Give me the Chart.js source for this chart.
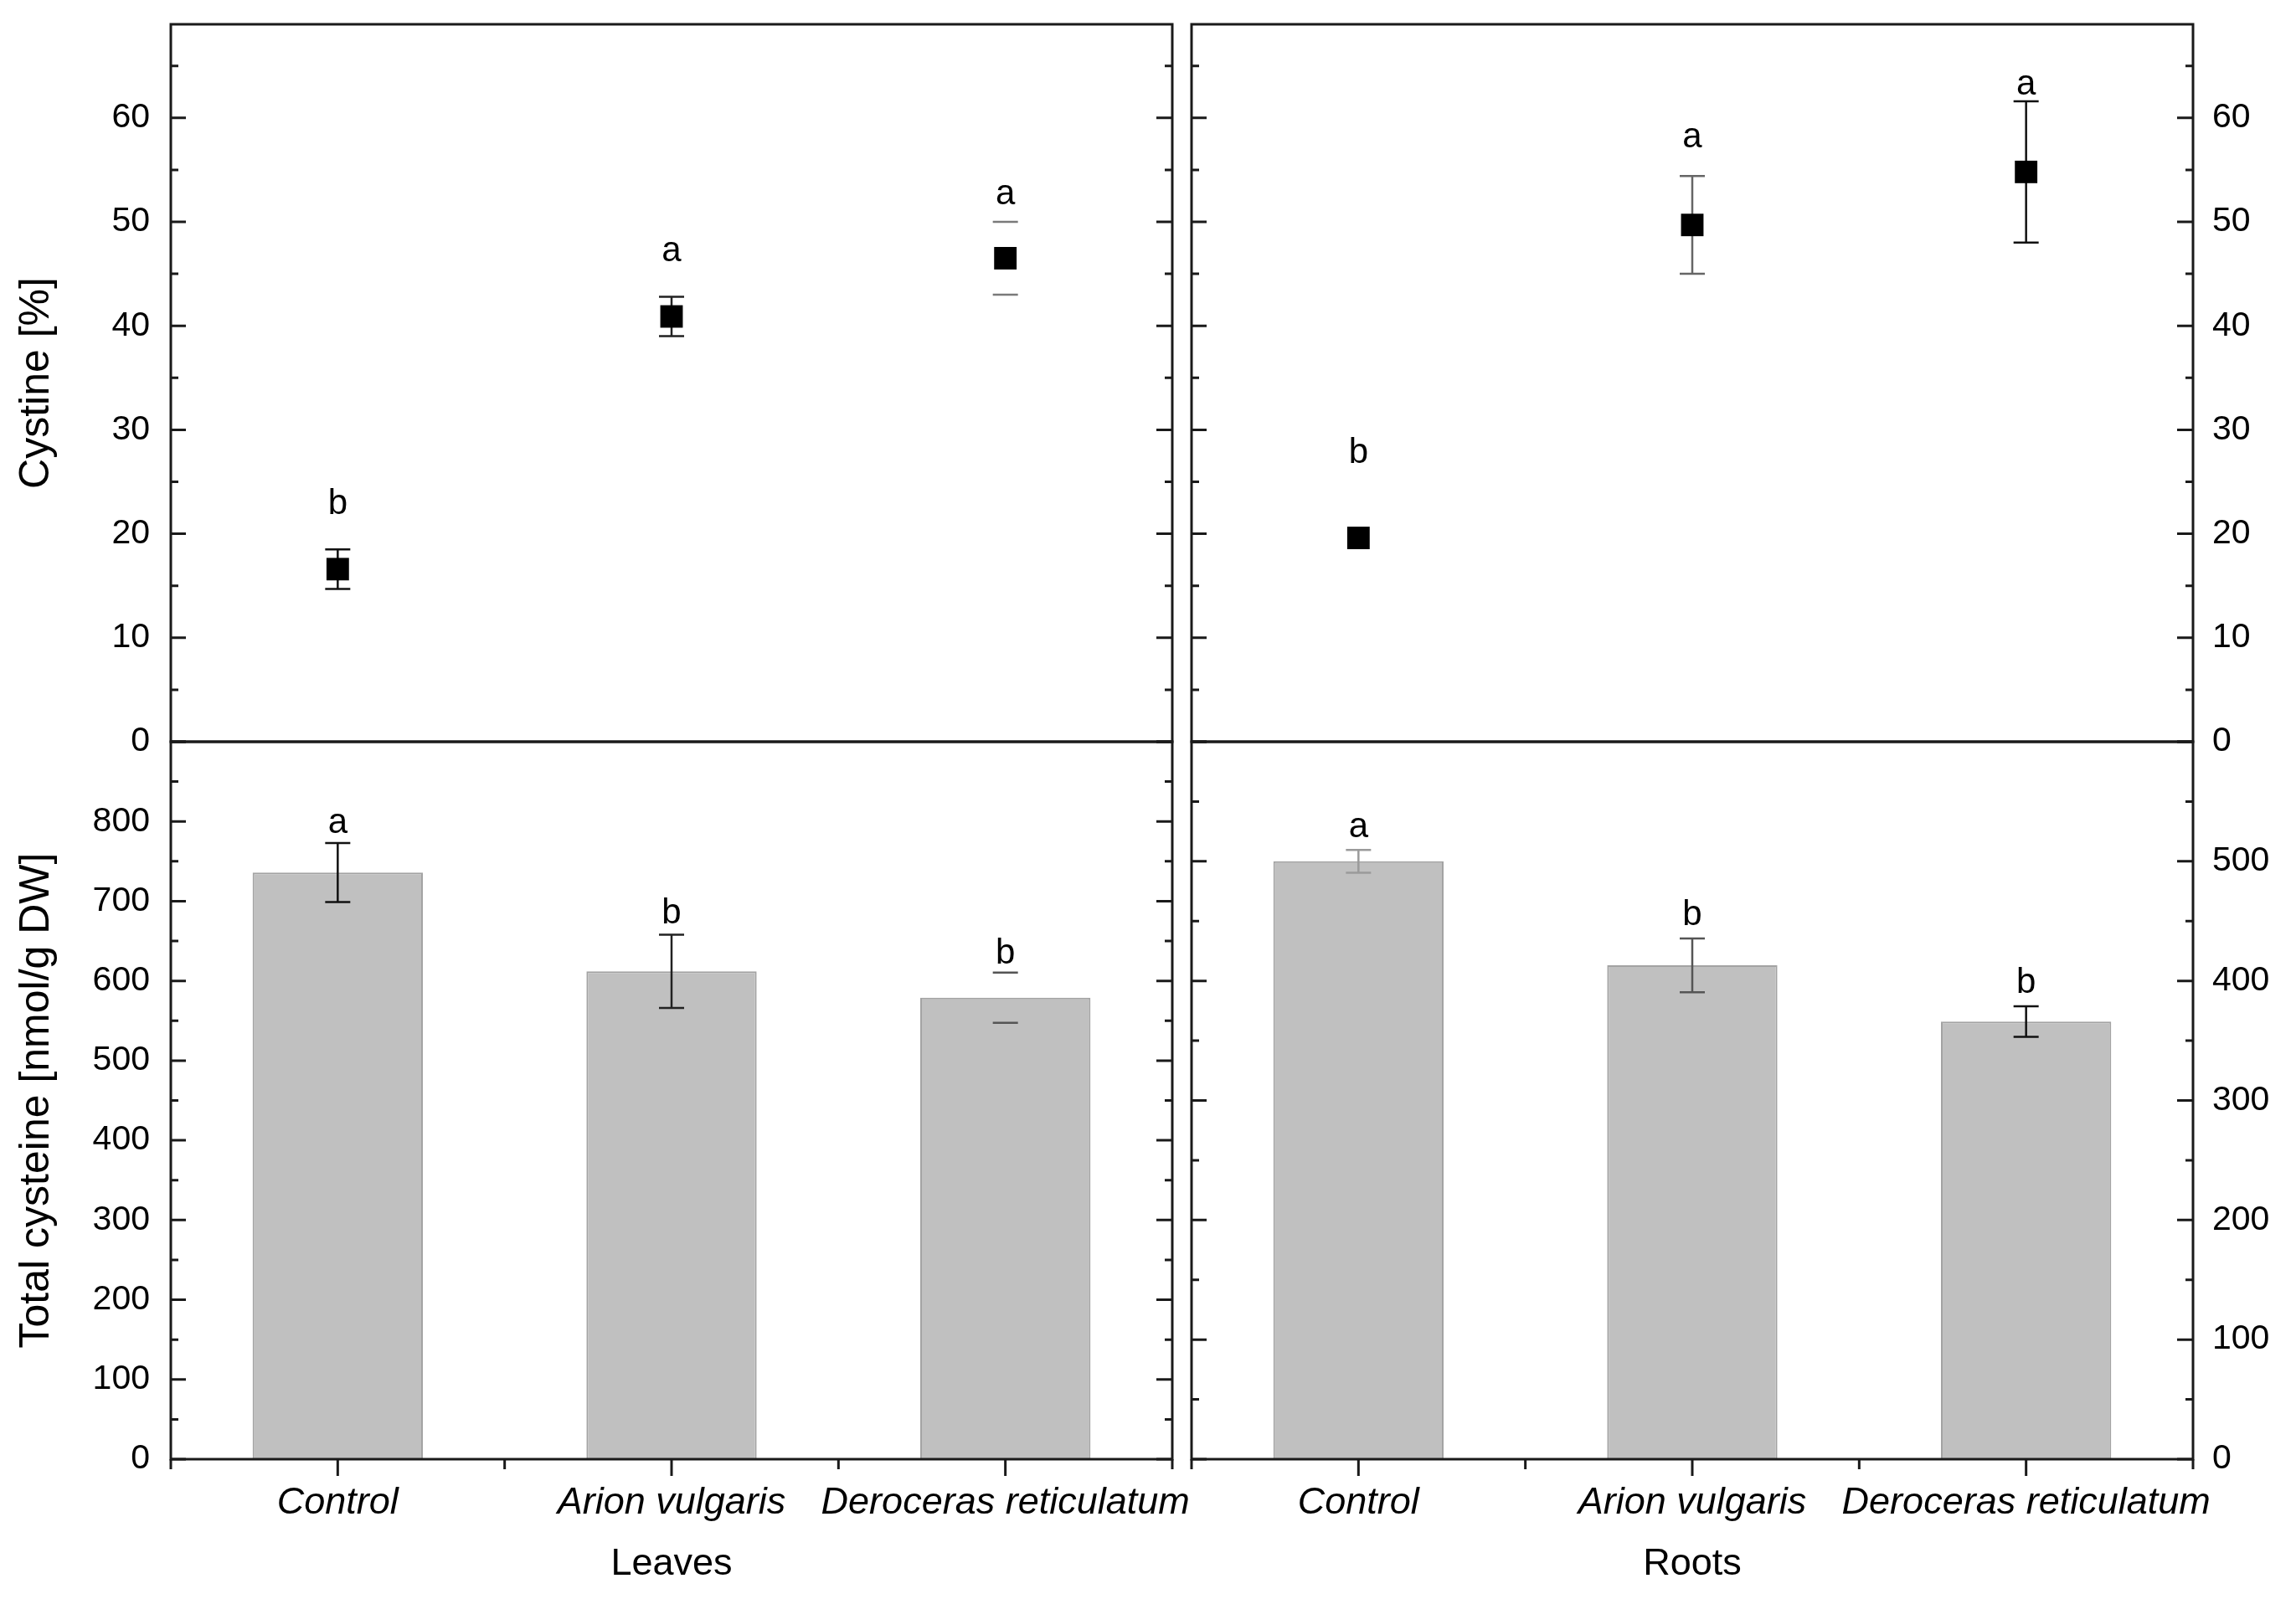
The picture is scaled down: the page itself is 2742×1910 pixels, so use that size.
<!DOCTYPE html>
<html>
<head>
<meta charset="utf-8">
<title>Cystine and total cysteine in leaves and roots</title>
<script src="https://cdn.jsdelivr.net/npm/chart.js@4.4.1/dist/chart.umd.min.js"></script>
<style>
    html, body { margin: 0; padding: 0; background: #fff; }
    body { width: 2742px; height: 1910px; position: relative; overflow: hidden; }
    canvas { position: absolute; }
</style>
</head>
<body>
<canvas id="leafTop" width="1440" height="920" style="left:0;top:0"></canvas>
<canvas id="rootTop" width="1342" height="920" style="left:1400px;top:0"></canvas>
<canvas id="leafBottom" width="1440" height="1050" style="left:0;top:860px"></canvas>
<canvas id="rootBottom" width="1342" height="1050" style="left:1400px;top:860px"></canvas>
<script>
// Treatments (x axis)
const groups = ['Control', 'Arion vulgaris', 'Deroceras reticulatum'];

// Cystine [%] - leaves
const leafCystine = [16.6, 40.9, 46.5];
const leafCystineErr = [1.9, 1.9, 3.5];
const leafCystineLetters = ['b', 'a', 'a'];
const leafCystineLetterAt = [21.9, 46.2, 51.7];

// Cystine [%] - roots
const rootCystine = [19.6, 49.7, 54.8];
const rootCystineErr = [0, 4.7, 6.8];
const rootCystineLetters = ['b', 'a', 'a'];
const rootCystineLetterAt = [26.8, 57.2, 62.2];

// Total cysteine [nmol/g DW] - leaves
const leafCysteine = [736, 612, 579];
const leafCysteineErr = [37, 46, 31.5];
const leafCysteineLetters = ['a', 'b', 'b'];
const leafCysteineLetterAt = [786, 672, 622];

// Total cysteine [nmol/g DW] - roots
const rootCysteine = [500, 413, 366];
const rootCysteineErr = [9.5, 22.5, 12.8];
const rootCysteineLetters = ['a', 'b', 'b'];
const rootCysteineLetterAt = [520, 447, 390];

// Axis ranges
const cystineMax = 69;
const cystineStep = 10;
const leafCysteineMax = 900;
const rootCysteineMax = 600;
const cysteineStep = 100;

const FONT = "'Liberation Sans', Arial, sans-serif";
const INK = '#1a1a1a';

// Error bars, significance letters, frame and inward ticks
function drawErrors(chart, cfg) {
    const ctx = chart.ctx;
    const xs = chart.scales.x;
    const ys = chart.scales.y;
    const values = chart.data.datasets[0].data;
    ctx.save();
    ctx.lineWidth = 2.5;
    cfg.errors.forEach((err, i) => {
        if (!err) return;
        const px = xs.getPixelForValue(i);
        const hi = ys.getPixelForValue(values[i] + err);
        const lo = ys.getPixelForValue(values[i] - err);
        ctx.strokeStyle = cfg.errColors[i];
        ctx.beginPath();
        if (cfg.stems[i]) {
            ctx.moveTo(px, hi);
            ctx.lineTo(px, lo);
        }
        ctx.moveTo(px - 15, hi);
        ctx.lineTo(px + 15, hi);
        ctx.moveTo(px - 15, lo);
        ctx.lineTo(px + 15, lo);
        ctx.stroke();
    });
    ctx.restore();
}

function drawLetters(chart, cfg) {
    const ctx = chart.ctx;
    const xs = chart.scales.x;
    const ys = chart.scales.y;
    ctx.save();
    ctx.fillStyle = '#000';
    ctx.font = '42px ' + FONT;
    ctx.textAlign = 'center';
    ctx.textBaseline = 'alphabetic';
    cfg.letters.forEach((letter, i) => {
        ctx.fillText(letter, xs.getPixelForValue(i), ys.getPixelForValue(cfg.letterAt[i]));
    });
    ctx.restore();
}

function drawFrame(chart, cfg) {
    const ctx = chart.ctx;
    const a = chart.chartArea;
    const ys = chart.scales.y;
    const xs = chart.scales.x;
    ctx.save();
    ctx.strokeStyle = INK;
    ctx.lineWidth = 3;
    ctx.strokeRect(a.left, a.top, a.right - a.left, a.bottom - a.top);

    ctx.beginPath();
    const step = ys.ticks[1].value - ys.ticks[0].value;
    ys.ticks.forEach(t => {
        const py = ys.getPixelForValue(t.value);
        ctx.moveTo(a.left, py); ctx.lineTo(a.left + 18, py);
        ctx.moveTo(a.right, py); ctx.lineTo(a.right - 19, py);
        const mv = t.value + step / 2;
        if (mv < ys.max) {
            const my = ys.getPixelForValue(mv);
            ctx.moveTo(a.left, my); ctx.lineTo(a.left + 9, my);
            ctx.moveTo(a.right, my); ctx.lineTo(a.right - 9, my);
        }
    });

    if (cfg.xTicks) {
        groups.forEach((g, i) => {
            const px = xs.getPixelForValue(i);
            ctx.moveTo(px, a.bottom); ctx.lineTo(px, a.bottom + 20);
        });
        for (let i = 0; i <= groups.length; i++) {
            const px = xs.getPixelForValue(i - 0.5);
            ctx.moveTo(px, a.bottom); ctx.lineTo(px, a.bottom + 12);
        }
    }
    ctx.stroke();
    ctx.restore();
}

function panelDecor(cfg) {
    return {
        id: 'panelDecor',
        beforeDatasetsDraw(chart) {
            if (cfg.errorsBehind) drawErrors(chart, cfg);
        },
        afterDatasetsDraw(chart) {
            if (!cfg.errorsBehind) drawErrors(chart, cfg);
            drawLetters(chart, cfg);
        },
        afterDraw(chart) {
            drawFrame(chart, cfg);
        }
    };
}

function yAxis(max, step, position, width, padding, title) {
    return {
        type: 'linear',
        position: position,
        min: 0,
        max: max,
        ticks: {
            stepSize: step,
            includeBounds: false,
            padding: padding,
            color: '#000',
            font: { family: FONT, size: 41 },
            callback: function(value) {
                return value >= this.max ? '' : value;
            }
        },
        grid: { display: false, drawTicks: false },
        border: { display: false },
        title: title ? {
            display: true,
            text: title,
            color: '#000',
            font: { family: FONT, size: 50 },
            padding: { top: 14, bottom: 0 }
        } : { display: false },
        afterFit: function(scale) {
            // keep the plot box fixed; labels may overhang
            scale.width = width;
            scale.paddingTop = 0;
            scale.paddingBottom = 0;
        }
    };
}

function xAxisHidden() {
    return { type: 'category', display: false, offset: true };
}

function xAxisShown(title) {
    return {
        type: 'category',
        offset: true,
        grid: { display: false, drawTicks: false },
        border: { display: false },
        ticks: {
            autoSkip: false,
            maxRotation: 0,
            minRotation: 0,
            padding: 25,
            color: '#000',
            font: { family: FONT, size: 45, style: 'italic' }
        },
        title: {
            display: true,
            text: title,
            color: '#000',
            font: { family: FONT, size: 45 },
            padding: { top: 4, bottom: 14 }
        },
        afterFit: function(scale) {
            scale.height = 167;
            scale.paddingLeft = 0;
            scale.paddingRight = 0;
        }
    };
}

const commonOptions = {
    responsive: false,
    animation: false,
    events: [],
    plugins: { legend: { display: false }, tooltip: { enabled: false } }
};

function pointDataset(values) {
    return {
        data: values,
        showLine: false,
        pointStyle: 'rect',
        pointRadius: 19,
        pointBackgroundColor: '#000',
        pointBorderWidth: 0
    };
}

function barDataset(values) {
    return {
        data: values,
        backgroundColor: '#c0c0c0',
        borderColor: '#a3a3a3',
        borderWidth: 2,
        barPercentage: 0.51,
        categoryPercentage: 1.0
    };
}

// Leaves - cystine
new Chart(document.getElementById('leafTop'), {
    type: 'line',
    data: { labels: groups, datasets: [pointDataset(leafCystine)] },
    options: Object.assign({}, commonOptions, {
        layout: { autoPadding: false, padding: { top: 29, bottom: 34, left: 0, right: 40 } },
        scales: {
            x: xAxisHidden(),
            y: yAxis(cystineMax, cystineStep, 'left', 204, 25, 'Cystine [%]')
        }
    }),
    plugins: [panelDecor({
        errors: leafCystineErr, letters: leafCystineLetters, letterAt: leafCystineLetterAt,
        errColors: ['#111', '#222', '#7a7a7a'], stems: [true, true, false],
        errorsBehind: true, xTicks: false
    })]
});

// Roots - cystine
new Chart(document.getElementById('rootTop'), {
    type: 'line',
    data: { labels: groups, datasets: [pointDataset(rootCystine)] },
    options: Object.assign({}, commonOptions, {
        layout: { autoPadding: false, padding: { top: 29, bottom: 34, left: 23, right: 0 } },
        scales: {
            x: xAxisHidden(),
            y: yAxis(cystineMax, cystineStep, 'right', 123, 23, null)
        }
    }),
    plugins: [panelDecor({
        errors: rootCystineErr, letters: rootCystineLetters, letterAt: rootCystineLetterAt,
        errColors: ['#999', '#666', '#111'], stems: [true, true, true],
        errorsBehind: true, xTicks: false
    })]
});

// Leaves - total cysteine
new Chart(document.getElementById('leafBottom'), {
    type: 'bar',
    data: { labels: groups, datasets: [barDataset(leafCysteine)] },
    options: Object.assign({}, commonOptions, {
        layout: { autoPadding: false, padding: { top: 26, bottom: 0, left: 0, right: 40 } },
        scales: {
            x: xAxisShown('Leaves'),
            y: yAxis(leafCysteineMax, cysteineStep, 'left', 204, 25, 'Total cysteine [nmol/g DW]')
        }
    }),
    plugins: [panelDecor({
        errors: leafCysteineErr, letters: leafCysteineLetters, letterAt: leafCysteineLetterAt,
        errColors: ['#111', '#222', '#555'], stems: [true, true, false],
        errorsBehind: false, xTicks: true
    })]
});

// Roots - total cysteine
new Chart(document.getElementById('rootBottom'), {
    type: 'bar',
    data: { labels: groups, datasets: [barDataset(rootCysteine)] },
    options: Object.assign({}, commonOptions, {
        layout: { autoPadding: false, padding: { top: 26, bottom: 0, left: 23, right: 0 } },
        scales: {
            x: xAxisShown('Roots'),
            y: yAxis(rootCysteineMax, cysteineStep, 'right', 123, 23, null)
        }
    }),
    plugins: [panelDecor({
        errors: rootCysteineErr, letters: rootCysteineLetters, letterAt: rootCysteineLetterAt,
        errColors: ['#9a9a9a', '#555', '#111'], stems: [true, true, true],
        errorsBehind: false, xTicks: true
    })]
});
</script>
</body>
</html>
